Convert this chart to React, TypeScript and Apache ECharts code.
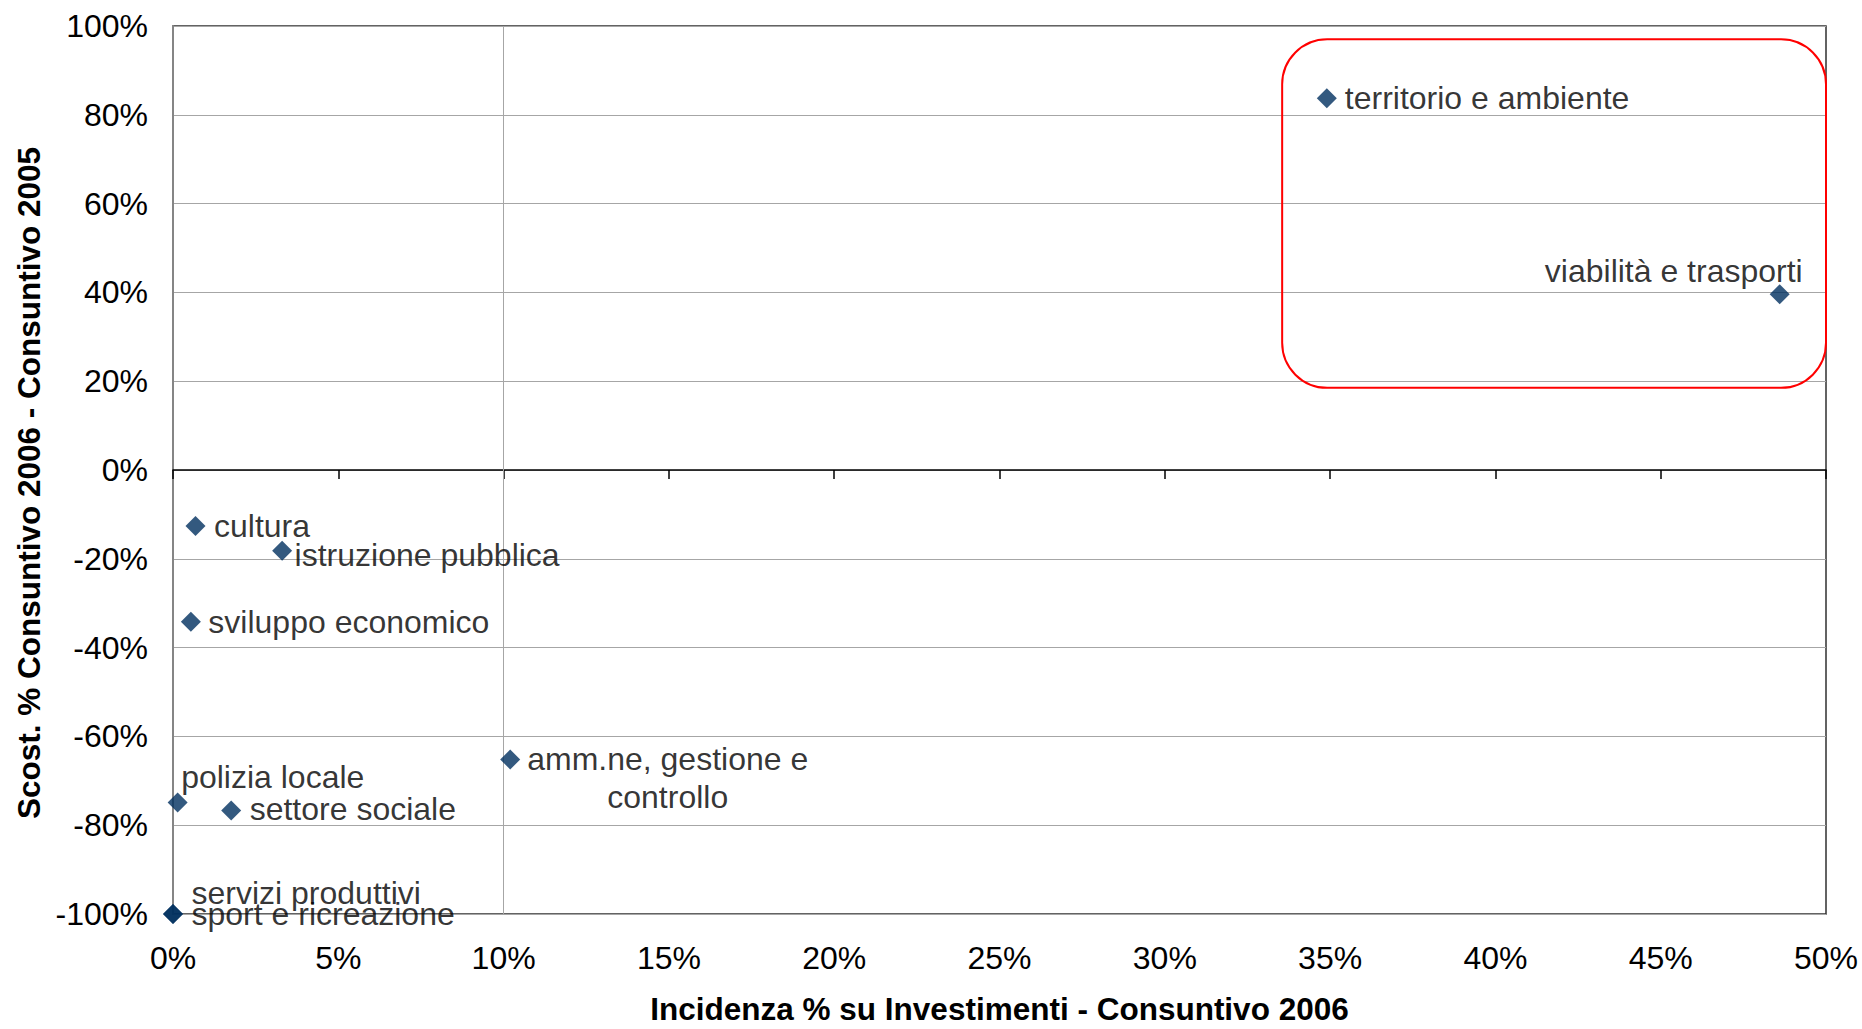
import React, { useEffect, useRef } from "react";
import * as echarts from "echarts";

// ---- data ----
const categories = [
  "territorio e ambiente",
  "viabilità e trasporti",
  "cultura",
  "istruzione pubblica",
  "sviluppo economico",
  "amm.ne, gestione e\ncontrollo",
  "polizia locale",
  "settore sociale",
  "servizi produttivi",
  "sport e ricreazione",
];
const incidenza2006 = [0.349, 0.486, 0.0068, 0.033, 0.0054, 0.102, 0.0014, 0.0176, 0.0, 0.0];
const scostamento = [0.837, 0.396, -0.126, -0.182, -0.342, -0.652, -0.749, -0.767, -1.0, -1.0];
const xTickLabels = ["0%", "5%", "10%", "15%", "20%", "25%", "30%", "35%", "40%", "45%", "50%"];
const yTickLabels = ["-100%", "-80%", "-60%", "-40%", "-20%", "0%", "20%", "40%", "60%", "80%", "100%"];
const xTitle = "Incidenza % su Investimenti - Consuntivo 2006";
const yTitle = "Scost. % Consuntivo 2006 - Consuntivo 2005";
const dividerX = 0.1;
const highlightBox = { xMin: 0.3355, xMax: 0.5, yMin: 0.185, yMax: 0.97 };

// ---- label placement (style) ----
const labelLayout: Record<string, any> = {
  "territorio e ambiente": { offset: [3, 0] },
  "viabilità e trasporti": { align: "right", offset: [8, -23] },
  "cultura": { offset: [3.5, 0] },
  "istruzione pubblica": { offset: [-2.5, 4] },
  "sviluppo economico": { offset: [2.5, 0] },
  "amm.ne, gestione e\ncontrollo": { align: "center", offset: [142.5, 19], lineHeight: 38 },
  "polizia locale": { offset: [-11.5, -26] },
  "settore sociale": { offset: [3.5, -2] },
  "servizi produttivi": { offset: [3.5, -21] },
  "sport e ricreazione": { offset: [3.5, 0] },
};

const FONT = '"Liberation Sans", Arial, sans-serif';
const FS = 32;
const TITLE_FS = 31.5;

export default function App() {
  const ref = useRef<HTMLDivElement>(null);
  useEffect(() => {
    if (!ref.current) return;
    const chart = echarts.init(ref.current, undefined, { renderer: "svg" });
    const data = categories.map((name, i) => ({
      name,
      value: [incidenza2006[i], scostamento[i]],
      label: {
        show: true,
        position: "right",
        distance: 5,
        formatter: name,
        ...(labelLayout[name] || {}),
      },
    }));
    const fmtX = (v: number) => xTickLabels[Math.round(v / 0.05)] ?? "";
    const fmtY = (v: number) => yTickLabels[Math.round((v + 1) / 0.2)] ?? "";
    chart.setOption({
      animation: false,
      backgroundColor: "#ffffff",
      textStyle: { fontFamily: FONT },
      grid: {
        left: 173,
        right: 36,
        top: 26,
        bottom: 115,
        show: true,
        borderColor: "#303030",
        borderWidth: 1.5,
        backgroundColor: "transparent",
      },
      xAxis: [
        {
          type: "value",
          position: "bottom",
          min: 0,
          max: 0.5,
          interval: 0.05,
          axisLine: { show: true, onZero: true, lineStyle: { color: "#000000", width: 1.5 } },
          axisTick: { show: true, length: 9, lineStyle: { color: "#000000", width: 1.5 } },
          axisLabel: { show: false },
          splitLine: { show: false },
        },
        {
          type: "value",
          position: "bottom",
          min: 0,
          max: 0.5,
          interval: 0.05,
          axisLine: { show: false, onZero: false },
          axisTick: { show: false },
          axisLabel: {
            show: true,
            margin: 28,
            formatter: fmtX,
            color: "#000000",
            fontSize: FS,
            fontFamily: FONT,
          },
          splitLine: { show: false },
        },
      ],
      yAxis: {
        type: "value",
        min: -1,
        max: 1,
        interval: 0.2,
        axisLine: { show: true, onZero: false, lineStyle: { color: "#858585", width: 2 } },
        axisTick: { show: false },
        axisLabel: {
          margin: 25,
          formatter: fmtY,
          color: "#000000",
          fontSize: FS,
          fontFamily: FONT,
        },
        splitLine: { show: true, lineStyle: { color: "#a6a6a6", width: 1 } },
      },
      series: [
        {
          type: "scatter",
          xAxisIndex: 0,
          yAxisIndex: 0,
          symbol: "diamond",
          symbolSize: 20,
          itemStyle: { color: "#00305f" },
          label: { color: "#000000", fontSize: FS, fontFamily: FONT },
          data,
          markLine: {
            silent: true,
            symbol: "none",
            label: { show: false },
            lineStyle: { color: "#a6a6a6", type: "solid", width: 1 },
            data: [{ xAxis: dividerX }],
            z: 1,
          },
          z: 5,
        },
      ],
    });

    const p1 = chart.convertToPixel({ gridIndex: 0 } as any, [highlightBox.xMin, highlightBox.yMax]) as number[];
    const p2 = chart.convertToPixel({ gridIndex: 0 } as any, [highlightBox.xMax, highlightBox.yMin]) as number[];
    const xMid = chart.convertToPixel({ gridIndex: 0 } as any, [0.25, 0]) as number[];

    chart.setOption({
      graphic: [
        {
          type: "text",
          x: 28.5,
          y: 483,
          rotation: Math.PI / 2,
          style: {
            text: yTitle,
            font: `bold ${TITLE_FS}px ${FONT}`,
            fill: "#000000",
            align: "center",
            verticalAlign: "middle",
          },
        },
        {
          type: "text",
          x: xMid[0],
          y: 1009,
          style: {
            text: xTitle,
            font: `bold ${TITLE_FS}px ${FONT}`,
            fill: "#000000",
            align: "center",
            verticalAlign: "middle",
          },
        },
        {
          type: "rect",
          z: 100,
          shape: {
            x: p1[0],
            y: p1[1],
            width: p2[0] - p1[0],
            height: p2[1] - p1[1],
            r: 45,
          },
          style: { fill: "none", stroke: "#ff0000", lineWidth: 2 },
        },
      ],
    });

    return () => chart.dispose();
  }, []);
  return (
    <div
      ref={ref}
      style={{ position: "fixed", left: 0, top: 0, width: 1862, height: 1029, background: "#fff" }}
    />
  );
}
